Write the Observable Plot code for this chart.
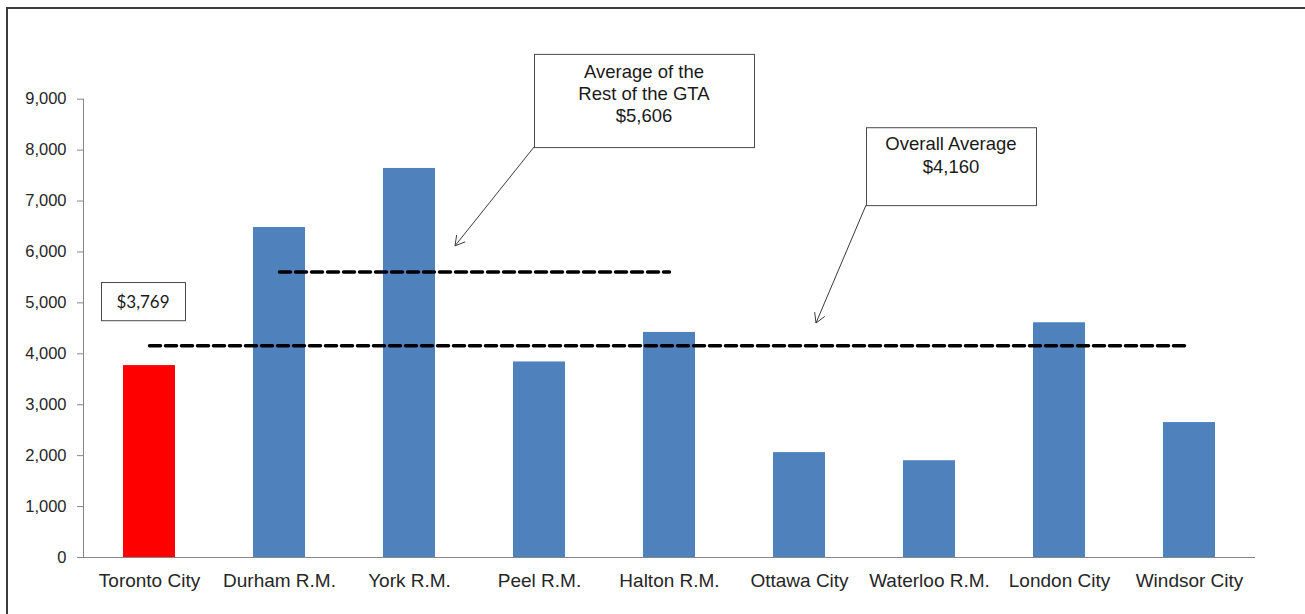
<!DOCTYPE html>
<html>
<head>
<meta charset="utf-8">
<script src="https://cdn.jsdelivr.net/npm/d3@7"></script>
<script src="https://cdn.jsdelivr.net/npm/@observablehq/plot@0.6"></script>
<style>
  html, body { margin: 0; padding: 0; background: #fff; }
  #wrap { position: relative; width: 1305px; height: 614px; overflow: hidden; }
  #border { position: absolute; left: 6px; top: 7px; width: 1400px; height: 700px;
            border-top: 2px solid #3a3a3a; border-left: 2px solid #3a3a3a; }
  #chart { position: absolute; left: 0; top: 0; }
</style>
</head>
<body>
<div id="wrap"><div id="border"></div><div id="chart"></div></div>
<script>
// Municipalities and their per-household values
const municipalities = ["Toronto City", "Durham R.M.", "York R.M.", "Peel R.M.", "Halton R.M.",
                        "Ottawa City", "Waterloo R.M.", "London City", "Windsor City"];
const values = [3769, 6480, 7640, 3840, 4420, 2060, 1900, 4610, 2650];
const highlighted = "Toronto City";

// Reference averages
const restOfGtaAverage = 5606;
const restOfGta = ["Durham R.M.", "Halton R.M."];      // line spans these categories
const overallAverage = 4160;
const overallSpan = ["Toronto City", "Windsor City"];

// y-axis ticks
const yTicks = [0, 1000, 2000, 3000, 4000, 5000, 6000, 7000, 8000, 9000];

const rows = municipalities.map((name, i) => ({name, value: values[i]}));
const comma = d3.format(",");
const money = v => "$" + comma(v);

const font = "'Liberation Sans', Arial, sans-serif";
const axisGray = "#868686";
const textColor = "#262626";

const chart = Plot.plot({
  width: 1305,
  height: 614,
  marginTop: 98.7,
  marginBottom: 57,
  marginLeft: 83,
  marginRight: 50,
  style: {fontFamily: font, background: "transparent", color: textColor},
  x: {domain: municipalities, paddingInner: 0.6, paddingOuter: 0.3, label: null},
  y: {domain: [0, 9000], label: null},
  marks: [
    Plot.frame({anchor: "left", stroke: axisGray}),
    Plot.axisY(yTicks, {tickSize: 6, tickPadding: 11, tickFormat: comma, stroke: axisGray,
                        fill: textColor, fontSize: 16.5, label: null}),
    Plot.axisX({tickSize: 0, tickPadding: 16, fill: textColor, fontSize: 19, label: null}),
    Plot.barY(rows, {x: "name", y: "value",
                     fill: d => d.name === highlighted ? "#ff0000" : "#4f81bd"}),
    Plot.ruleY([0], {stroke: axisGray}),
    Plot.line(restOfGta.map(n => ({name: n, value: restOfGtaAverage})),
              {x: "name", y: "value", stroke: "#000", strokeWidth: 3.5, strokeDasharray: "11,5"}),
    Plot.line(overallSpan.map(n => ({name: n, value: overallAverage})),
              {x: "name", y: "value", stroke: "#000", strokeWidth: 3.5, strokeDasharray: "11,5"})
  ]
});

document.getElementById("chart").append(chart);

// Callout boxes and arrows, positioned through the chart's scales
const xs = chart.scale("x"), ys = chart.scale("y");
const cx = c => xs.apply(c) + xs.bandwidth / 2;
const py = v => ys.apply(v);
const svg = d3.select(chart);
const notes = svg.append("g");

function box(left, top, width, bottom) {
  notes.append("rect")
    .attr("x", left + 0.5).attr("y", top + 0.5)
    .attr("width", width).attr("height", bottom - top)
    .attr("fill", "#fff").attr("stroke", "#4a4a4a").attr("stroke-width", 1);
}
function lines(textLines, centerX, firstBaseline, step, size, family) {
  textLines.forEach((t, i) => {
    notes.append("text")
      .attr("x", centerX).attr("y", firstBaseline + i * step)
      .attr("text-anchor", "middle")
      .attr("font-family", family).attr("font-size", size)
      .attr("fill", "#1a1a1a").text(t);
  });
}
function arrow(x1, y1, x2, y2) {
  notes.append("line").attr("x1", x1).attr("y1", y1).attr("x2", x2).attr("y2", y2)
    .attr("stroke", "#3a3a3a").attr("stroke-width", 1);
  const a = Math.atan2(y2 - y1, x2 - x1), len = 11, spread = Math.PI / 6;
  const path = d3.path();
  path.moveTo(x2 - len * Math.cos(a - spread), y2 - len * Math.sin(a - spread));
  path.lineTo(x2, y2);
  path.lineTo(x2 - len * Math.cos(a + spread), y2 - len * Math.sin(a + spread));
  notes.append("path").attr("d", path.toString()).attr("fill", "none")
    .attr("stroke", "#3a3a3a").attr("stroke-width", 1);
}

// Rest of the GTA callout
{
  const left = cx("Peel R.M.") - 5, width = 220, top = py(9880), bottom = py(8050);
  arrow(left, bottom, cx("York R.M.") + 46, py(6110));
  box(left, top, width, bottom);
  lines(["Average of the", "Rest of the GTA", money(restOfGtaAverage)],
        left + width / 2, top + 24.5, 22, 18.5, font);
}

// Overall average callout
{
  const left = cx("Ottawa City") + 67, width = 170, top = py(8440), bottom = py(6910);
  arrow(left, bottom, cx("Ottawa City") + 17, py(4595));
  box(left, top, width, bottom);
  lines(["Overall Average", money(overallAverage)], left + width / 2, top + 22.5, 23, 18.5, font);
}

// Toronto value label
{
  const toronto = values[municipalities.indexOf(highlighted)];
  const left = cx(highlighted) - 48, width = 84, top = py(5400), bottom = py(4650);
  box(left, top, width, bottom);
  lines([money(toronto)], left + width / 2, (top + bottom) / 2 + 6.5, 0, 17, "Lato, 'Open Sans', sans-serif");
}
</script>
</body>
</html>
